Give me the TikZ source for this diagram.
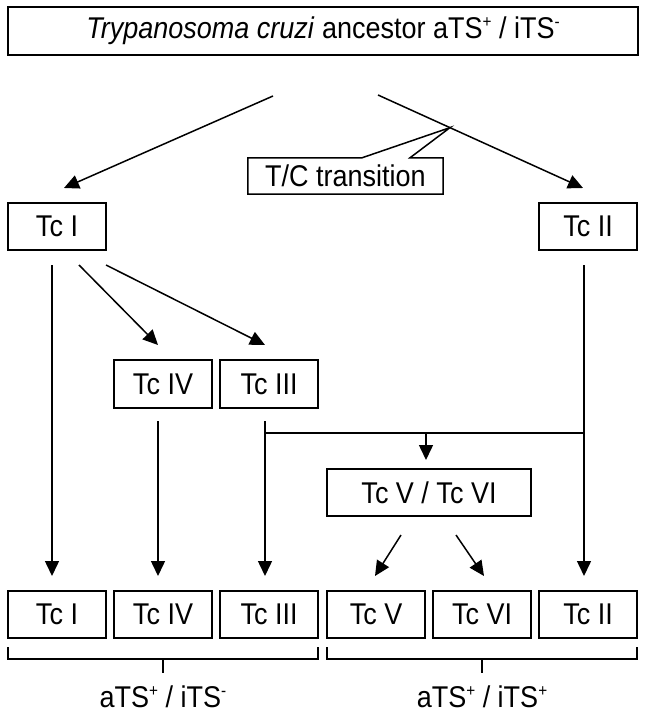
\documentclass[tikz,border=0pt]{standalone}
\usepackage{fontspec}
\setmainfont{Liberation Sans}[FakeStretch=0.9]
\usetikzlibrary{arrows.meta,calc}
\newcommand{\sups}[1]{\raisebox{11pt}{\fontsize{17}{17}\selectfont #1}}
\begin{document}
\begin{tikzpicture}[x=1pt,y=-1pt,
  txt/.style={font=\fontsize{30}{34}\selectfont},
  box/.style={draw, line width=1.5pt, inner sep=0pt, minimum width=98pt, minimum height=47pt, txt},
  conn/.style={line width=1.5pt},
  arr/.style={conn, -{Triangle[length=15pt,width=14pt]}},
  lab/.style={txt, inner sep=0pt, anchor=base}]
\useasboundingbox (0,0) rectangle (645,714);

% top box
\node[box, minimum width=630pt, minimum height=48pt] (top) at (323,31)
  {\textit{Trypanosoma cruzi} ancestor aTS\sups{+} / iTS\sups{-}};

% first level
\node[box] (tc1) at (57,226.5) {Tc I};
\node[box] (tc2) at (588,226.5) {Tc II};

% arrows from ancestor
\coordinate (l1) at (273,96);
\coordinate (l2) at (64,188);
\coordinate (r1) at (378,95);
\coordinate (r2) at (583,188);
\draw[arr] (l1) -- (l2);
\draw[arr] (r1) -- (r2);

% callout
\node[txt, inner sep=0pt, minimum width=195pt, minimum height=36pt] (tcx) at (345.5,176) {T/C transition};
\coordinate (tip) at ($(r1)!0.351!(r2)$);
\draw[conn] ([xshift=16.5pt]tcx.north) -- (tip) -- ([xshift=64.5pt]tcx.north)
  -- (tcx.north east) -- (tcx.south east) -- (tcx.south west) -- (tcx.north west) -- cycle;

% second level
\node[box, minimum height=48pt] (tc4) at (163,384) {Tc IV};
\node[box, minimum height=48pt] (tc3) at (269,384) {Tc III};

\coordinate (a1) at (79,265);
\coordinate (a2) at (106,265);
\draw[arr] (a1) -- (158,345);
\draw[arr] (a2) -- (265,345);

% Tc V / Tc VI
\node[box, minimum width=204pt] (tc56) at (429,492.5) {Tc V / Tc VI};

% bottom row
\node[box] (b1) at (57,614.5) {Tc I};
\node[box] (b4) at (163,614.5) {Tc IV};
\node[box] (b3) at (269,614.5) {Tc III};
\node[box] (b5) at (376,614.5) {Tc V};
\node[box] (b6) at (482,614.5) {Tc VI};
\node[box] (b2) at (588,614.5) {Tc II};

% verticals
\coordinate (v1) at (52,265);
\coordinate (v4) at (158,421);
\coordinate (v3) at (265,421);
\coordinate (v2) at (584,265);
\coordinate (h1) at (265,433);
\coordinate (h2) at (584,433);
\coordinate (m1) at (426,433);
\draw[arr] (v1) -- (52,576);
\draw[arr] (v4) -- (158,576);
\draw[arr] (v3) -- (265,576);
\draw[arr] (v2) -- (584,576);
\draw[conn] (h1) -- (h2);
\draw[arr] (m1) -- (426,460);

% V/VI split
\coordinate (s1) at (401,535);
\coordinate (s2) at (456,535);
\draw[arr] (s1) -- (375,576);
\draw[arr] (s2) -- (484,576);

% brackets
\draw[conn] (8,647) -- (8,659) -- (318,659) -- (318,647);
\draw[conn] (163,659) -- (163,673);
\draw[conn] (327,647) -- (327,659) -- (637,659) -- (637,647);
\draw[conn] (482,659) -- (482,673);

\node[lab] (g1) at (163,707) {aTS\sups{+} / iTS\sups{-}};
\node[lab] (g2) at (482,707) {aTS\sups{+} / iTS\sups{+}};
\end{tikzpicture}
\end{document}
